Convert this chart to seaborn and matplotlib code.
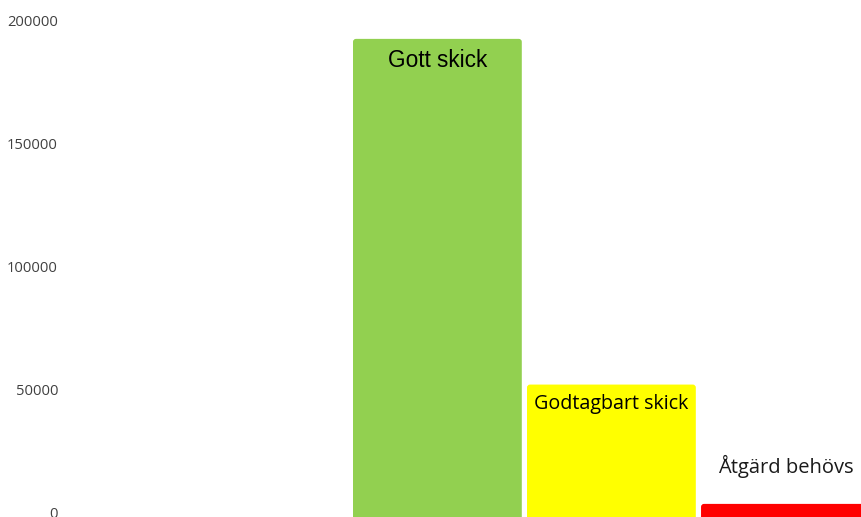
import matplotlib
matplotlib.use("Agg")
import matplotlib.pyplot as plt
from matplotlib.patches import FancyBboxPatch
import seaborn as sns
import pandas as pd

categories = ["Gott skick", "Godtagbart skick", "Åtgärd behövs"]
values = [192700, 52200, 3700]
colors = ["#92D050", "#FFFF00", "#FF0000"]

df = pd.DataFrame({"skick": categories, "antal": values})

sns.set_style("white")
fig = plt.figure(figsize=(8.62, 5.17), dpi=100)
ax = fig.add_axes([65 / 862, 4 / 517, 1 - 65 / 862, 1 - 4 / 517])

sns.barplot(data=df, x="skick", y="antal", hue="skick", palette=colors,
            width=0.97, legend=False, ax=ax, saturation=1)

ax.set_xlim(-2.14, 2.44)
ax.set_ylim(0, 208500)
ax.set_yticks([0, 50000, 100000, 150000, 200000])
ax.set_yticklabels(["0", "50000", "100000", "150000", "200000"],
                   family="Open Sans", fontsize=10.6, color="#404040")
ax.tick_params(axis="y", length=0, pad=5)
ax.set_xticks([])
ax.set_xlabel("")
ax.set_ylabel("")
sns.despine(ax=ax, left=True, bottom=True)

# slightly rounded top corners; bars run off the bottom edge like the original
px_x = (862 - 65) / (2.44 + 2.14)
px_y = (517 - 4) / 208500
r = 3 / px_x
ext = 10 / px_y
for patch in list(ax.patches):
    patch.set_visible(False)
    rb = FancyBboxPatch((patch.get_x(), patch.get_y() - ext), patch.get_width(),
                        patch.get_height() + ext,
                        boxstyle=f"round,pad=0,rounding_size={r}",
                        mutation_aspect=(px_x / px_y), facecolor=patch.get_facecolor(),
                        edgecolor="none", clip_on=False)
    ax.add_patch(rb)

# labels: (offset px, font, size, color)
styles = [(-22, "Liberation Sans", 16.3, "black"),
          (-19, "Open Sans", 14.2, "black"),
          (37, "Open Sans", 14.5, "#1a1a1a")]
bars = [p for p in ax.patches if not p.get_visible()]
for patch, label, (dy, fam, fs, c) in zip(bars, categories, styles):
    cx = patch.get_x() + patch.get_width() / 2
    top = patch.get_y() + patch.get_height()
    ax.annotate(label, xy=(cx, top), xytext=(0, dy * 0.72), textcoords="offset points",
                ha="center", va="center", family=fam, fontsize=fs, color=c)

fig.savefig("out.png", dpi=100)
